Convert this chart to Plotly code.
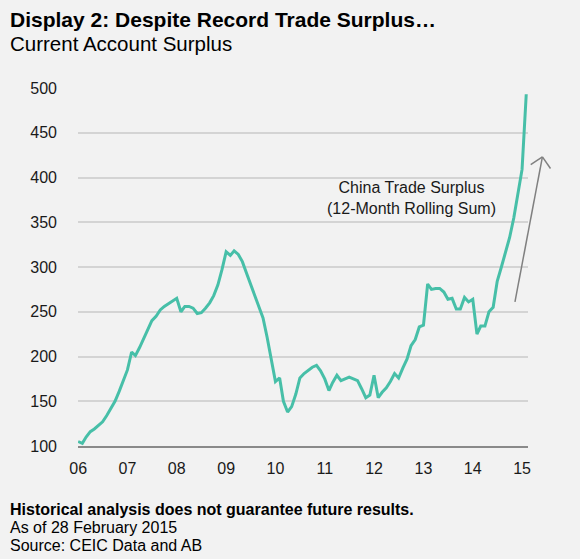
import pandas as pd
import plotly.graph_objects as go

# Monthly data, Jan 2006 - Feb 2015 (USD bn)
months = pd.date_range("2006-01-01", periods=110, freq="MS")
surplus = [
    105, 103, 110, 116, 119, 123, 127, 134, 142, 150, 161, 174,   # 2006
    185, 205, 201, 210, 220, 232, 240, 245, 252, 256, 259, 262,   # 2007
    265, 250, 256, 256, 254, 248, 249, 254, 260, 268, 280, 297,   # 2008
    317, 313, 318, 314, 306, 293, 281, 269, 256, 243, 221, 196,   # 2009
    172, 176, 150, 138, 144, 158, 176, 181, 185, 188, 190, 184,   # 2010
    175, 162, 171, 179, 173, 175, 177, 175, 173, 164, 154, 157,   # 2011
    179, 154, 160, 165, 172, 181, 176, 187, 197, 212, 219, 233,   # 2012
    235, 281, 275, 276, 276, 272, 264, 265, 253, 253, 266, 261,   # 2013
    264, 225, 234, 234, 250, 255, 284, 300, 316, 333, 355, 380,   # 2014
    409, 493,                                                     # 2015
]
y_ticks = [100, 150, 200, 250, 300, 350, 400, 450, 500]

FONT = "Arial, Liberation Sans, sans-serif"
BG = "#f2f2f2"
ARROW = "#808080"

fig = go.Figure()
fig.add_trace(go.Scatter(
    x=months, y=surplus, mode="lines",
    line=dict(color="#47bfa8", width=3),
    hoverinfo="skip", showlegend=False,
))

# Trend arrow (open V head), drawn as thin line shapes
arrow_tip = (1.032, 423)
arrow_tail = (0.971, 261)
arrow_arms = [(1.006, 414.5), (1.050, 410)]
shapes = [dict(type="line", xref="paper", yref="y",
               x0=arrow_tail[0], y0=arrow_tail[1], x1=arrow_tip[0], y1=arrow_tip[1],
               line=dict(color=ARROW, width=1.5))]
for ax_, ay_ in arrow_arms:
    shapes.append(dict(type="line", xref="paper", yref="y",
                       x0=ax_, y0=ay_, x1=arrow_tip[0], y1=arrow_tip[1],
                       line=dict(color=ARROW, width=1.5)))

fig.update_layout(
    width=580, height=559,
    paper_bgcolor=BG, plot_bgcolor=BG,
    margin=dict(l=78, r=52, t=88, b=113),
    font=dict(family=FONT, color="#1a1a1a", size=16),
    shapes=shapes,
    xaxis=dict(
        range=["2005-12-31", "2015-02-14"],
        tick0="2006-01-01", dtick="M12", tickformat="%y",
        showgrid=False, zeroline=False,
        showline=True, linecolor="#8a8a8a", linewidth=2,
        ticks="", ticklabelstandoff=7,
        tickfont=dict(size=16, color="#1a1a1a"),
    ),
    yaxis=dict(
        range=[100, 500], tickvals=y_ticks,
        showgrid=True, gridcolor="#d4d4d4", gridwidth=1.5,
        zeroline=False, showline=False, ticks="",
        ticklabelstandoff=20,
        tickfont=dict(size=16, color="#1a1a1a"),
    ),
    annotations=[
        dict(text="<b>Display 2: Despite Record Trade Surplus…</b>",
             xref="paper", yref="paper", x=-0.156, y=1.19,
             xanchor="left", yanchor="middle", showarrow=False,
             font=dict(size=21, color="#000000")),
        dict(text="Current Account Surplus",
             xref="paper", yref="paper", x=-0.156, y=1.124,
             xanchor="left", yanchor="middle", showarrow=False,
             font=dict(size=20.5, color="#000000")),
        dict(text="China Trade Surplus<br>(12-Month Rolling Sum)",
             xref="paper", yref="y", x=0.741, y=377,
             xanchor="center", yanchor="middle", showarrow=False,
             align="center", font=dict(size=16, color="#1a1a1a")),
        dict(text="<b>Historical analysis does not guarantee future results.</b>",
             xref="paper", yref="paper", x=-0.156, y=-0.176,
             xanchor="left", yanchor="middle", showarrow=False,
             font=dict(size=16, color="#000000")),
        dict(text="As of 28 February 2015",
             xref="paper", yref="paper", x=-0.156, y=-0.228,
             xanchor="left", yanchor="middle", showarrow=False,
             font=dict(size=16, color="#000000")),
        dict(text="Source: CEIC Data and AB",
             xref="paper", yref="paper", x=-0.156, y=-0.279,
             xanchor="left", yanchor="middle", showarrow=False,
             font=dict(size=16, color="#000000")),
    ],
)

fig.write_html("out.html")
